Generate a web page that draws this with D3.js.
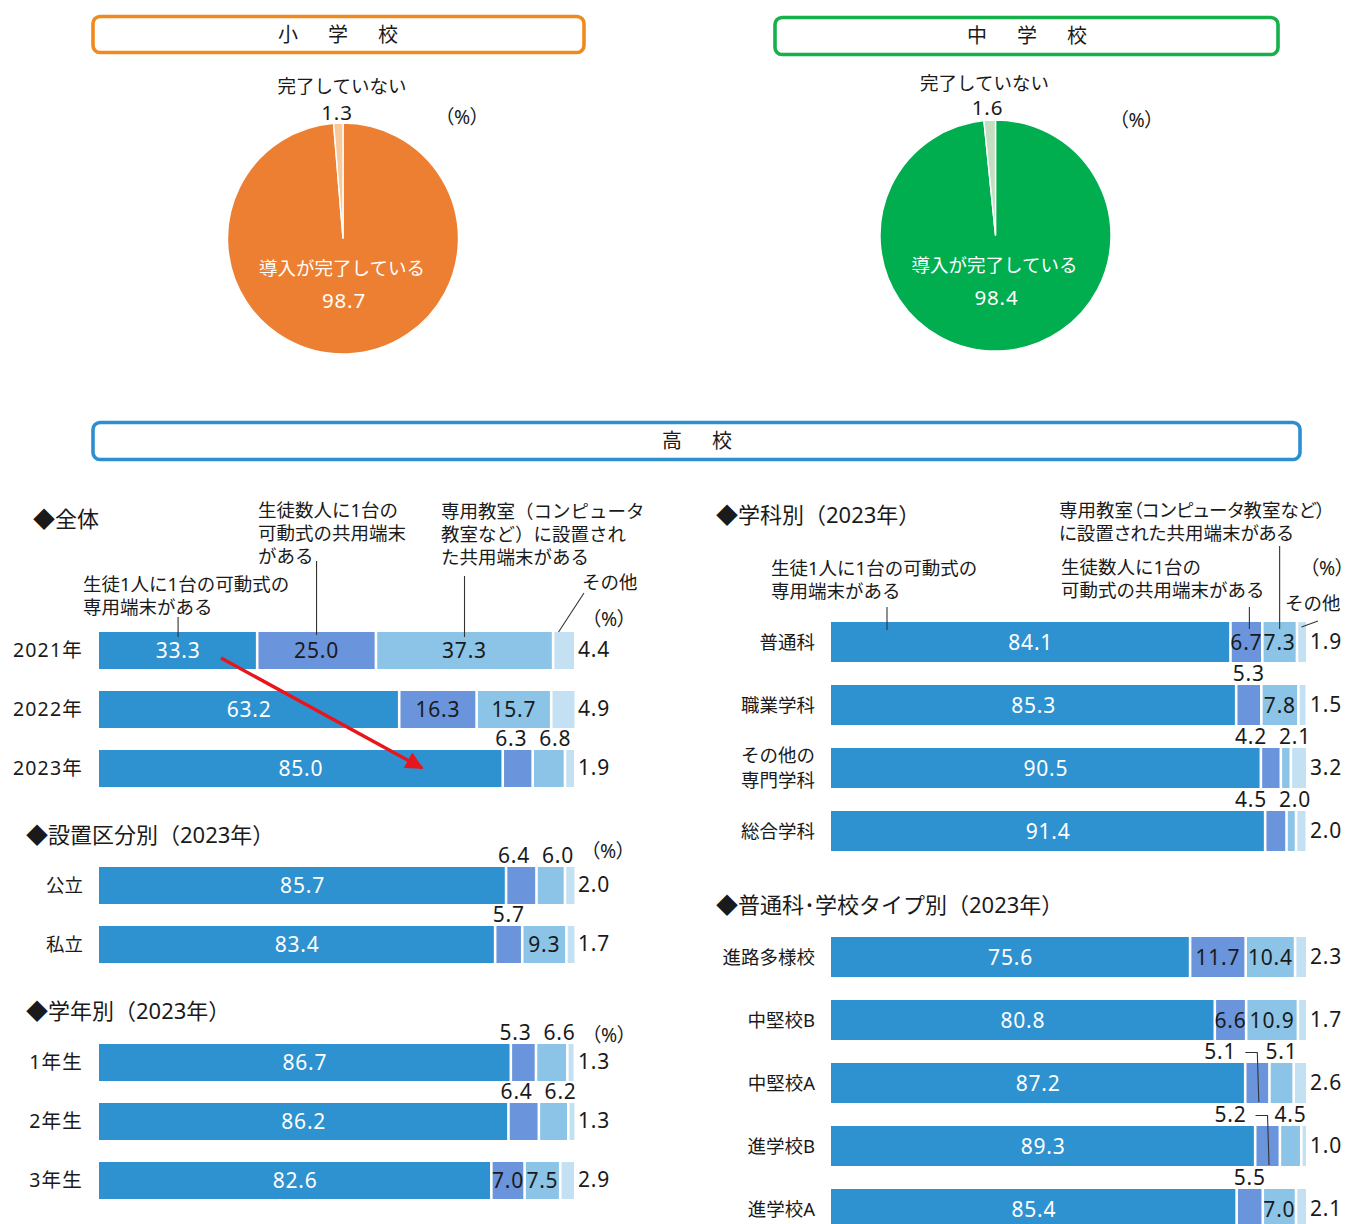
<!DOCTYPE html>
<html lang="ja">
<head>
<meta charset="utf-8">
<script src="https://cdn.jsdelivr.net/npm/d3@7"></script>
<style>
html,body{margin:0;padding:0;background:#fff;}
svg{display:block;}
text{font-family:"Noto Sans","Noto Sans CJK JP",sans-serif;fill:#1a1a1a;}
.palt{font-feature-settings:"palt";}
</style>
</head>
<body>
<svg id="chart" width="1347" height="1224"></svg>
<script>
// ---------- data ----------
// 小学校・中学校: 端末の導入状況 (%)
const pieLabels = ["導入が完了している", "完了していない"];
const elementaryValues = [98.7, 1.3];
const juniorValues = [98.4, 1.6];

// 高校: 端末の整備状況 (%)
// 系列: 生徒1人に1台の専用端末 / 生徒数人に1台の共用端末 / 専用教室の共用端末 / その他
const overallCats = ["2021年", "2022年", "2023年"];
const overallPersonal = [33.3, 63.2, 85.0];
const overallSharedMobile = [25.0, 16.3, 6.3];
const overallSharedRoom = [37.3, 15.7, 6.8];
const overallOther = [4.4, 4.9, 1.9];

const founderCats = ["公立", "私立"];
const founderPersonal = [85.7, 83.4];
const founderSharedMobile = [6.4, 5.7];
const founderSharedRoom = [6.0, 9.3];
const founderOther = [2.0, 1.7];

const gradeCats = ["1年生", "2年生", "3年生"];
const gradePersonal = [86.7, 86.2, 82.6];
const gradeSharedMobile = [5.3, 6.4, 7.0];
const gradeSharedRoom = [6.6, 6.2, 7.5];
const gradeOther = [1.3, 1.3, 2.9];

const deptCats = ["普通科", "職業学科", "その他の\n専門学科", "総合学科"];
const deptPersonal = [84.1, 85.3, 90.5, 91.4];
const deptSharedMobile = [6.7, 5.3, 4.2, 4.5];
const deptSharedRoom = [7.3, 7.8, 2.1, 2.0];
const deptOther = [1.9, 1.5, 3.2, 2.0];

const typeCats = ["進路多様校", "中堅校B", "中堅校A", "進学校B", "進学校A"];
const typePersonal = [75.6, 80.8, 87.2, 89.3, 85.4];
const typeSharedMobile = [11.7, 6.6, 5.1, 5.2, 5.5];
const typeSharedRoom = [10.4, 10.9, 5.1, 4.5, 7.0];
const typeOther = [2.3, 1.7, 2.6, 1.0, 2.1];

// where each value label sits: in = inside the segment, up = above the bar,
// lead = above-left with a leader line, out = right of the bar
const overallPlace = [["in","in","in","out"],["in","in","in","out"],["in","up","up","out"]];
const founderPlace = [["in","up","up","out"],["in","up","in","out"]];
const gradePlace = [["in","up","up","out"],["in","up","up","out"],["in","in","in","out"]];
const deptPlace = [["in","in","in","out"],["in","up","in","out"],["in","up","up","out"],["in","up","up","out"]];
const typePlace = [["in","in","in","out"],["in","in","in","out"],["in","lead","up","out"],["in","lead","up","out"],["in","up","in","out"]];

// ---------- styles ----------
const segColors = ["#2e92d0", "#6a94dc", "#8bc4e6", "#c4e1f3"];
const ink = "#1a1a1a";
const svg = d3.select("#chart");

// ---------- framed section titles ----------
function titleBox(x, y, w, h, color, label, cx) {
  svg.append("rect").attr("x", x).attr("y", y).attr("width", w).attr("height", h)
    .attr("rx", 7).attr("fill", "#fff").attr("stroke", color).attr("stroke-width", 3.6);
  svg.append("text").attr("x", cx + 2.5).attr("y", y + h / 2).attr("dy", "0.36em")
    .attr("text-anchor", "middle").attr("font-size", 20).attr("letter-spacing", 5)
    .attr("font-family", '"Noto Sans CJK JP",sans-serif').text(label);
}
titleBox(93, 16.5, 491, 36, "#f08a1d", "小　学　校", 338);
titleBox(775, 17.5, 503, 37, "#17b14b", "中　学　校", 1027);
titleBox(93, 422.5, 1207, 37, "#2e8fd0", "高　校", 697);

// ---------- unit notes ----------
function unit(x, y) {
  svg.append("text").attr("class", "palt").attr("x", x).attr("y", y).attr("dy", "0.36em")
    .attr("text-anchor", "middle").attr("font-size", 19.5)
    .attr("font-family", '"Noto Sans CJK JP",sans-serif').text("（%）");
}

// ---------- pies ----------
function drawPie(cfg) {
  const pie = d3.pie().sort(null).value(d => d);
  const arc = d3.arc().innerRadius(0).outerRadius(cfg.r);
  const g = svg.append("g").attr("transform", `translate(${cfg.cx},${cfg.cy})`);
  g.selectAll("path").data(pie(cfg.values)).join("path")
    .attr("d", arc).attr("fill", (d, i) => cfg.colors[i])
    .attr("stroke", "#fff").attr("stroke-width", 1.4);
  // inside label for the completed share
  g.append("text").attr("x", -1).attr("y", 30).attr("dy", "0.36em").attr("text-anchor", "middle")
    .attr("font-size", 18.5).style("fill", "#fff").text(pieLabels[0]);
  g.append("text").attr("x", 1).attr("y", 62).attr("dy", "0.36em").attr("text-anchor", "middle")
    .attr("font-size", 20.5).attr("letter-spacing", 0.8).style("fill", "#fff")
    .text(cfg.values[0].toFixed(1));
  // small slice label above the pie
  g.append("text").attr("x", cfg.lx).attr("y", cfg.ly).attr("dy", "0.36em").attr("text-anchor", "middle")
    .attr("font-size", 18.5).text(pieLabels[1]);
  g.append("text").attr("x", cfg.vx).attr("y", cfg.vy).attr("dy", "0.36em").attr("text-anchor", "middle")
    .attr("font-size", 20.5).attr("letter-spacing", 0.8).text(cfg.values[1].toFixed(1));
  unit(cfg.cx + cfg.px, cfg.cy + cfg.py);
}
drawPie({cx: 343, cy: 238.5, r: 115.5, values: elementaryValues, colors: ["#ed7f33", "#f8c99c"],
  lx: -1, ly: -152, vx: -6, vy: -126, px: 119, py: -122});
drawPie({cx: 995.5, cy: 235.5, r: 115.5, values: juniorValues, colors: ["#00ae4f", "#c2dfbf"],
  lx: -11, ly: -152, vx: -8, vy: -128, px: 141, py: -116});

// ---------- stacked 100% bars ----------
function multiline(sel, lines, lh, fs) {
  const x = sel.attr("x");
  lines.forEach((t, i) => sel.append("tspan").attr("x", x)
    .attr("dy", i === 0 ? -(lines.length - 1) * lh / 2 + 0.36 * fs : lh).text(t));
}

function drawStack(cfg) {
  const rows = cfg.cats.map((c, i) => ({cat: c, vals: cfg.series.map(s => s[i]), place: cfg.place[i]}));
  const n = rows.length;
  const x = d3.scaleLinear().domain([0, 100]).range([cfg.x0, cfg.x1]);
  const y = d3.scaleBand().domain(cfg.cats)
    .range([cfg.top, cfg.top + (n - 1) * cfg.step + cfg.bh])
    .paddingInner(1 - cfg.bh / cfg.step).paddingOuter(0);
  const layers = d3.stack().keys([0, 1, 2, 3]).value((d, k) => d.vals[k])(rows);
  const g = svg.append("g");
  const gap = 1.3;

  layers.forEach((layer, k) => {
    g.selectAll(null).data(layer).join("rect")
      .attr("x", d => x(d[0]) + (k > 0 ? gap : 0))
      .attr("y", d => y(d.data.cat))
      .attr("width", d => Math.max(0.5, x(d[1]) - x(d[0]) - (k > 0 ? gap : 0) - (k < 3 ? gap : 0)))
      .attr("height", y.bandwidth())
      .attr("fill", segColors[k]);
  });

  // category labels (labels with digits get a little extra tracking)
  const catFont = 18.5;
  rows.forEach(r => {
    const t = g.append("text").attr("x", cfg.x0 - 16).attr("y", y(r.cat) + y.bandwidth() / 2)
      .attr("text-anchor", "end").attr("font-size", /\d/.test(r.cat) ? 19.5 : catFont);
    if (/\d/.test(r.cat)) t.attr("letter-spacing", 1.2);
    multiline(t, r.cat.split("\n"), 25, catFont);
  });

  // value labels
  const valFont = 21;
  rows.forEach((r, i) => {
    const top = y(r.cat), mid = top + y.bandwidth() / 2, bottom = top + y.bandwidth();
    const ups = [];
    layers.forEach((layer, k) => {
      const d = layer[i];
      const c = (x(d[0]) + x(d[1])) / 2;
      const txt = r.vals[k].toFixed(1);
      const mode = r.place[k];
      if (mode === "in") {
        g.append("text").attr("x", c).attr("y", mid).attr("dy", "0.36em").attr("text-anchor", "middle")
          .attr("font-size", valFont).attr("letter-spacing", 0.8)
          .style("fill", k === 0 ? "#fff" : ink).text(txt);
      } else if (mode === "out") {
        g.append("text").attr("x", x(100) + 4).attr("y", mid).attr("dy", "0.33em")
          .attr("font-size", valFont).attr("letter-spacing", 0.8).text(txt);
      } else if (mode === "up") {
        ups.push({c, txt});
      } else if (mode === "lead") {
        const ly = top - 11.5;
        g.append("text").attr("x", c - 37).attr("y", ly).attr("dy", "0.36em").attr("text-anchor", "middle")
          .attr("font-size", valFont).attr("letter-spacing", 0.8).text(txt);
        g.append("path").attr("d", `M${c - 12},${ly + 1}H${c}L${c + 1.5},${bottom - 1}`)
          .attr("fill", "none").attr("stroke", "#333").attr("stroke-width", 1.1);
      }
    });
    // spread labels above the bar so they do not collide
    if (ups.length === 2 && ups[1].c - ups[0].c < 44) {
      const m = (ups[0].c + ups[1].c) / 2;
      ups[0].c = m - 22; ups[1].c = m + 22;
    }
    const last = ups[ups.length - 1];
    if (last && last.c + 16 > x(100) + 5) {
      const s = last.c + 16 - x(100) - 5;
      ups.forEach(u => u.c -= s);
    }
    ups.forEach(u => {
      g.append("text").attr("x", u.c).attr("y", top - 11.5).attr("dy", "0.36em").attr("text-anchor", "middle")
        .attr("font-size", valFont).attr("letter-spacing", 0.8).text(u.txt);
    });
  });
  return {x, y, layers};
}

const left = {x0: 99, x1: 574};
const right = {x0: 831, x1: 1306};

const overall = drawStack({...left, cats: overallCats, top: 632, step: 59, bh: 37, place: overallPlace,
  series: [overallPersonal, overallSharedMobile, overallSharedRoom, overallOther]});
drawStack({...left, cats: founderCats, top: 867, step: 59, bh: 37, place: founderPlace,
  series: [founderPersonal, founderSharedMobile, founderSharedRoom, founderOther]});
drawStack({...left, cats: gradeCats, top: 1044, step: 59, bh: 37, place: gradePlace,
  series: [gradePersonal, gradeSharedMobile, gradeSharedRoom, gradeOther]});
const dept = drawStack({...right, cats: deptCats, top: 622, step: 63, bh: 40, place: deptPlace,
  series: [deptPersonal, deptSharedMobile, deptSharedRoom, deptOther]});
drawStack({...right, cats: typeCats, top: 937, step: 63, bh: 40, place: typePlace,
  series: [typePersonal, typeSharedMobile, typeSharedRoom, typeOther]});

// ---------- section headings ----------
function heading(x, y, t) {
  svg.append("text").attr("x", x).attr("y", y).attr("dy", "0.36em").attr("font-size", 22)
    .attr("font-family", '"Noto Sans CJK JP",sans-serif').text(t);
}
heading(33, 519, "◆全体");
heading(26, 835, "◆設置区分別（2023年）");
heading(26, 1011, "◆学年別（2023年）");
heading(716, 515, "◆学科別（2023年）");
heading(716, 905, "◆普通科･学校タイプ別（2023年）");

unit(609, 619);
unit(608, 851);
unit(609, 1035);
unit(1327, 568);

// ---------- series annotations with leader lines ----------
function note(x, y, lines, cls) {
  const t = svg.append("text").attr("x", x).attr("y", y).attr("font-size", 18.5);
  if (cls) t.attr("class", cls);
  lines.forEach((s, i) => t.append("tspan").attr("x", x).attr("dy", i === 0 ? 0.36 * 18.5 : 23).text(s));
}
function leader(x1, y1, x2, y2) {
  svg.append("line").attr("x1", x1).attr("y1", y1).attr("x2", x2).attr("y2", y2)
    .attr("stroke", "#333").attr("stroke-width", 1.1);
}
const segMid = (res, row, k) => (res.x(res.layers[k][row][0]) + res.x(res.layers[k][row][1])) / 2;

// 全体
const oTop = overall.y(overallCats[0]);
note(83, 584, ["生徒1人に1台の可動式の", "専用端末がある"]);
leader(segMid(overall, 0, 0), 617, segMid(overall, 0, 0), oTop + 5);
note(258, 510, ["生徒数人に1台の", "可動式の共用端末", "がある"]);
leader(segMid(overall, 0, 1), 561, segMid(overall, 0, 1), oTop + 3);
note(441, 511, ["専用教室（コンピュータ", "教室など）に設置され", "た共用端末がある"]);
leader(segMid(overall, 0, 2), 576, segMid(overall, 0, 2), oTop + 5);
note(582, 582, ["その他"]);
leader(584, 593, segMid(overall, 0, 3) - 5, oTop);

// 学科別
const dTop = dept.y(deptCats[0]);
note(771, 568, ["生徒1人に1台の可動式の", "専用端末がある"]);
leader(887, 607, 887, dTop + 8);
note(1061, 567, ["生徒数人に1台の", "可動式の共用端末がある"]);
leader(segMid(dept, 0, 1) + 3, 607, segMid(dept, 0, 1) + 3, dTop + 7);
note(1059, 510, ["専用教室（コンピュータ教室など）", "に設置された共用端末がある"], "palt");
leader(segMid(dept, 0, 2), 546, segMid(dept, 0, 2), dTop + 7);
note(1285, 603, ["その他"]);
leader(1318, 621, segMid(dept, 0, 3), dTop + 5);

// ---------- trend arrow ----------
svg.append("defs").append("marker").attr("id", "head").attr("viewBox", "0 0 10 10")
  .attr("refX", 9).attr("refY", 5).attr("markerWidth", 5.8).attr("markerHeight", 5.2)
  .attr("orient", "auto").attr("markerUnits", "strokeWidth")
  .append("path").attr("d", "M0,0L10,5L0,10Z").attr("fill", "#e8161b");
svg.append("line").attr("x1", 221).attr("y1", 658).attr("x2", 422).attr("y2", 768)
  .attr("stroke", "#e8161b").attr("stroke-width", 3.4).attr("marker-end", "url(#head)");
</script>
</body>
</html>
